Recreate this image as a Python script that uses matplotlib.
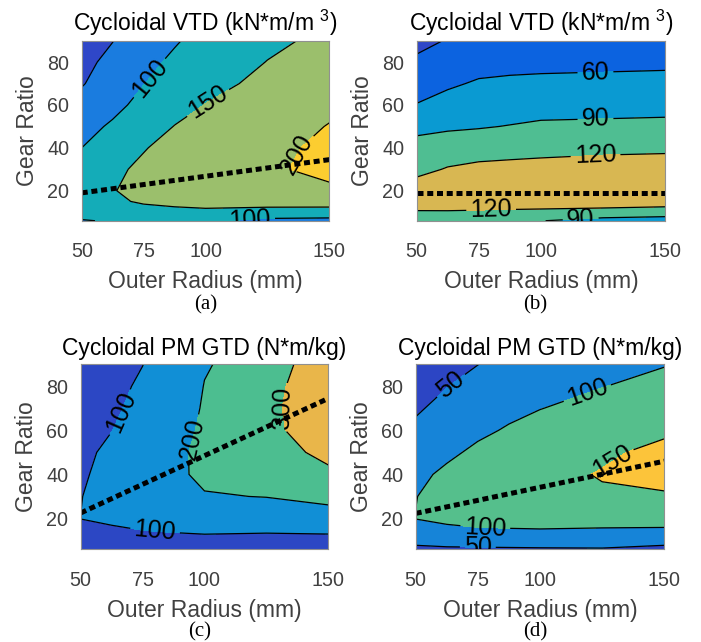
import numpy as np
import matplotlib
matplotlib.use("Agg")
import matplotlib.pyplot as plt

plt.rcParams['font.family'] = ['Liberation Sans', 'DejaVu Sans']
plt.rcParams['mathtext.fontset'] = 'custom'
plt.rcParams['mathtext.rm'] = 'Liberation Sans'

# ---- grid (outer radius in mm, gear ratio) ----
radius = [50, 62.5, 75, 87.5, 100, 125, 150]
ratio = [6, 10, 15, 20, 30, 40, 50, 60, 70, 80, 90]

# ---- (a) Cycloidal VTD, kN*m/m^3 (rows = ratio, cols = radius) ----
vtd_a = [
    [97, 104, 104, 105, 108, 86, 80],
    [120, 128, 135, 138, 140, 138, 141],
    [135, 143, 155, 162, 168, 164, 160],
    [138, 148, 163, 172, 180, 185, 190],
    [125, 140, 160, 175, 188, 192, 215],
    [100, 122, 147, 167, 183, 186, 212],
    [85, 106, 130, 151, 170, 178, 202],
    [65, 88, 113, 135, 151, 168, 190],
    [47, 73, 99, 120, 138, 160, 180],
    [38, 62, 88, 108, 125, 151, 170],
    [30, 49, 78, 96, 115, 141, 160],
]
# ---- (b) Cycloidal VTD, kN*m/m^3 ----
vtd_b = [
    [95, 95, 94, 92, 91, 78, 72],
    [118, 118, 117, 116, 115, 113, 110],
    [132, 133, 133, 132, 132, 131, 130],
    [134, 136, 137, 137, 137, 137, 137],
    [112, 122, 127, 128, 129, 130, 131],
    [99, 104, 107, 110, 112, 115, 116],
    [83, 86, 88, 91, 94, 95, 96],
    [61, 70, 75, 77, 80, 81, 82],
    [48, 56, 63, 65, 66, 67, 68],
    [33, 42, 50, 52, 53, 54, 55],
    [25, 31, 40, 42, 43, 44, 45],
]
# ---- (c) Cycloidal PM GTD, N*m/kg ----
gtd_c = [
    [70, 75, 78, 80, 82, 84, 85],
    [80, 85, 90, 90, 92, 92, 93],
    [90, 95, 101, 104, 106, 104, 105],
    [100.5, 108, 120, 135, 140, 150, 160],
    [98, 129, 150, 170, 195, 202, 225],
    [92, 120, 155, 185, 215, 240, 285],
    [86, 113, 145, 183, 218, 265, 320],
    [80, 99, 130, 172, 212, 280, 345],
    [74, 90, 118, 160, 207, 278, 365],
    [68, 82, 110, 150, 202, 265, 375],
    [62, 75, 99, 140, 195, 232, 385],
]
# ---- (d) Cycloidal PM GTD, N*m/kg ----
gtd_d = [
    [40, 42, 43, 44, 45, 46, 30],
    [62, 70, 72, 73, 74, 75, 74],
    [85, 93, 97, 98, 99, 96, 95],
    [100.8, 108, 113, 117, 120, 124, 122],
    [99, 115, 125, 132, 138, 146, 146],
    [90, 108, 122, 133, 141, 152, 162],
    [78, 92, 108, 122, 132, 145, 158],
    [58, 75, 92, 104, 116, 130, 145],
    [45, 62, 78, 90, 99, 115, 127],
    [38, 49, 64, 76, 85, 99, 113],
    [32, 42, 49.5, 62, 72, 86, 98],
]

# contour levels per panel
levels_a = [50, 100, 150, 200]
levels_b = [30, 60, 90, 120]
levels_c = [100, 200, 300]
levels_d = [50, 100, 150]

# optimum-ratio dotted lines (end points)
opt_x = [50, 150]
opt_a = [19, 34.5]
opt_b = [19, 19]
opt_c = [22.5, 74.5]
opt_d = [22.3, 46]

# contour label positions
lab_a = [(78, 72), (101, 61), (140, 35), (118, 7)]
lab_b = [(122, 75), (122, 54), (122, 37.5), (80, 11), (116, 8)]
lab_c = [(66.5, 68), (93, 57), (133.5, 70), (80, 13.8)]
lab_d = [(65, 79), (119, 77), (130, 44), (78, 16.3), (75, 7.8)]

colors_a = ['#2f47c8', '#1a7cdf', '#14acb8', '#9bbf6c', '#fccd30']
colors_b = ['#2f47c8', '#0c63e0', '#0a9ad2', '#4fbe92', '#d8b752']
colors_c = ['#2c47c4', '#118fd6', '#4cbe90', '#e9b64a']
colors_d = ['#2c45c4', '#1684d8', '#55bf8c', '#fcc43a']

titles = ['Cycloidal VTD (kN*m/m $^{3}$)', 'Cycloidal VTD (kN*m/m $^{3}$)',
          'Cycloidal PM GTD (N*m/kg)', 'Cycloidal PM GTD (N*m/kg)']
captions = ['(a)', '(b)', '(c)', '(d)']
xticks = [50, 75, 100, 150]
yticks = [20, 40, 60, 80]

fig = plt.figure(figsize=(7.01, 6.42), dpi=100)
positions = [
    [0.1166, 0.6562, 0.3532, 0.2804],
    [0.5944, 0.6562, 0.3542, 0.2804],
    [0.1151, 0.1444, 0.3532, 0.2882],
    [0.5930, 0.1444, 0.3546, 0.2882],
]
cap_pos = [(206, 305), (535, 305), (200, 632), (535, 632)]

panels = [
    (vtd_a, levels_a, colors_a, opt_a, lab_a),
    (vtd_b, levels_b, colors_b, opt_b, lab_b),
    (gtd_c, levels_c, colors_c, opt_c, lab_c),
    (gtd_d, levels_d, colors_d, opt_d, lab_d),
]

X, Y = np.meshgrid(radius, ratio)
grey = '#404040'
for i, (z, lev, cols, opt, labs) in enumerate(panels):
    Z = np.array(z, dtype=float)
    ax = fig.add_axes(positions[i])
    fill_levels = [-1e4] + lev + [1e4]
    ax.contourf(X, Y, Z, levels=fill_levels, colors=cols)
    cs = ax.contour(X, Y, Z, levels=lev, colors='k', linewidths=0.9)
    ax.set_xlim(50, 150)
    ax.set_ylim(6, 90)
    ax.clabel(cs, manual=labs, fontsize=18, inline=True, fmt='%d',
              inline_spacing=4)
    ax.plot(opt_x, opt, color='k', lw=3.6, linestyle=(0, (1.2, 0.75)),
            dash_capstyle='butt')
    ax.set_xticks(xticks)
    ax.set_yticks(yticks)
    ax.tick_params(axis='both', length=0, labelsize=14.2, labelcolor=grey)
    ax.tick_params(axis='x', pad=15.5)
    ax.tick_params(axis='y', pad=9)
    ax.set_xlabel('Outer Radius (mm)', fontsize=16.5, color=grey, labelpad=6.5)
    ax.set_ylabel('Gear Ratio', fontsize=16.5, color=grey, labelpad=6)
    ax.set_title(titles[i], fontsize=16.5, color='k', pad=7)
    for s in ax.spines.values():
        s.set_color('#909090')
        s.set_linewidth(0.8)
    cx, cy = cap_pos[i]
    fig.text(cx / 701, 1 - cy / 642, captions[i], ha='center', va='center',
             fontsize=15, family=['Liberation Serif', 'DejaVu Serif'])

fig.savefig('out.png', dpi=100)
